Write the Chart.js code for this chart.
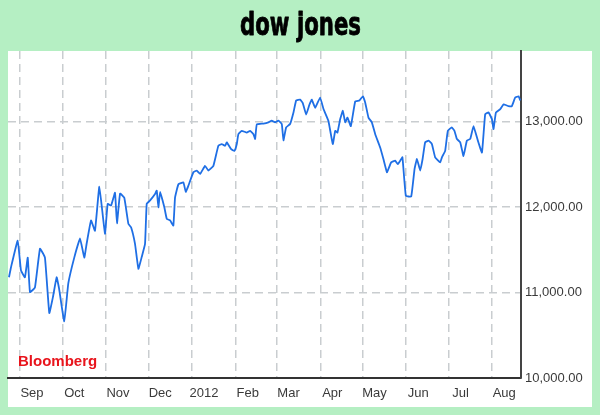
<!DOCTYPE html>
<html>
<head>
<meta charset="utf-8">
<style>
  html, body { margin: 0; padding: 0; background: #b5efc3; }
  #wrap { width: 600px; height: 415px; }
</style>
<script src="https://cdn.jsdelivr.net/npm/chart.js@4.4.1/dist/chart.umd.min.js"></script>
</head>
<body>
<div id="wrap"><canvas id="chart" width="600" height="415"></canvas></div>
<script>
// Dow Jones closes, late Aug 2011 - Aug 2012
// days = days since 1 Sep 2011
const days = [
  -7.8, -6.4, -1.6, 0.7, 3.5, 5.5, 7.1, 10.6, 14.2, 17.7,
  20.8, 23.4, 26.0, 27.7, 31.4, 34.3, 38.5, 42.6, 45.6, 47.3,
  50.4, 53.2, 56.3, 60.3, 62.2, 64.6, 67.4, 68.8, 71.0, 74.0,
  76.9, 78.8, 81.6, 84.0, 86.4, 88.7, 89.9, 92.3, 95.8, 97.0,
  98.2, 99.4, 102.4, 104.1, 106.5, 108.8, 110.0, 112.4, 115.9, 117.6,
  119.4, 123.0, 125.4, 127.8, 131.3, 133.6, 137.2, 140.7, 143.1, 145.5,
  146.7, 149.8, 152.1, 153.8, 154.9, 157.3, 160.9, 163.2, 165.6, 166.8,
  168.0, 172.7, 176.2, 178.6, 181.0, 183.3, 185.7, 186.9, 188.8, 191.6,
  194.0, 195.9, 198.7, 200.6, 203.0, 205.3, 207.0, 209.4, 212.9, 215.3,
  218.8, 221.9, 223.6, 225.2, 227.1, 229.0, 230.7, 232.3, 234.7, 237.8,
  240.8, 243.2, 244.9, 247.2, 249.6, 252.0, 255.5, 257.8, 260.3, 261.4,
  263.3, 266.1, 268.0, 269.7, 271.3, 273.7, 277.5, 279.9, 281.6, 283.9,
  285.6, 287.4, 289.8, 292.2, 294.5, 298.1, 299.3, 301.6, 303.5, 306.3,
  308.2, 309.9, 312.3, 314.6, 317.0, 319.4, 321.7, 324.8, 327.7, 330.0,
  332.4, 334.8, 335.9, 337.6, 340.7, 343.0, 346.5, 348.9, 351.3, 353.7,
  354.9
];
const closes = [
  11180, 11295, 11610, 11260, 11180, 11410, 11005, 11060, 11515, 11410,
  10760, 10950, 11180, 11050, 10665, 11110, 11410, 11635, 11410, 11575,
  11845, 11725, 12240, 11690, 12040, 12020, 12170, 11810, 12160, 12110,
  11805, 11765, 11570, 11280, 11420, 11570, 12040, 12080, 12155, 12195,
  12000, 12180, 12000, 11865, 11845, 11785, 12115, 12270, 12290, 12180,
  12250, 12410, 12430, 12390, 12485, 12430, 12485, 12720, 12740, 12720,
  12760, 12680, 12660, 12740, 12855, 12895, 12875, 12895, 12855, 12800,
  12970, 12980, 12995, 13015, 12995, 13015, 12975, 12785, 12935, 12975,
  13110, 13250, 13260, 13220, 13085, 13200, 13260, 13165, 13285, 13150,
  13010, 12740, 12895, 12875, 13030, 13130, 12995, 13050, 12950, 13240,
  13250, 13300, 13225, 13050, 12995, 12855, 12700, 12565, 12410, 12450,
  12525, 12545, 12505, 12545, 12585, 12135, 12125, 12450, 12565, 12430,
  12565, 12760, 12780, 12740, 12585, 12525, 12585, 12660, 12895, 12935,
  12895, 12800, 12760, 12600, 12780, 12800, 12950, 12780, 12640, 13090,
  13110, 13030, 12915, 13110, 13150, 13205, 13185, 13185, 13285, 13300,
  13250
];

const monthLabels = ['Sep', 'Oct', 'Nov', 'Dec', '2012', 'Feb', 'Mar', 'Apr', 'May', 'Jun', 'Jul', 'Aug'];
const monthStarts = ['2011-09-01', '2011-10-01', '2011-11-01', '2011-12-01', '2012-01-01', '2012-02-01',
                     '2012-03-01', '2012-04-01', '2012-05-01', '2012-06-01', '2012-07-01', '2012-08-01'];
const yTicks = [10000, 11000, 12000, 13000];

const TITLE = 'dow jones';
const SOURCE = 'Bloomberg';

/**
 * Days between 1 Sep 2011 and a date string
 */
function dayOffset(s) {
  return (Date.parse(s + 'T00:00:00Z') - Date.parse('2011-09-01T00:00:00Z')) / 86400000;
}

const monthDays = monthStarts.map(dayOffset);
const points = days.map((d, i) => ({ x: d, y: closes[i] }));

// Green backdrop, white panel, title and source tag
const decor = {
  id: 'decor',
  beforeDraw(chart) {
    const ctx = chart.ctx;
    ctx.save();
    ctx.fillStyle = '#b5efc3';
    ctx.fillRect(0, 0, chart.width, chart.height);
    ctx.fillStyle = '#ffffff';
    ctx.fillRect(8, 51, 584, 356);

    // heavy condensed title
    ctx.fillStyle = '#000000';
    ctx.strokeStyle = '#000000';
    ctx.lineWidth = 0.8;
    ctx.lineJoin = 'round';
    ctx.font = 'bold 32px "Liberation Sans Narrow", "DejaVu Sans Condensed", sans-serif';
    ctx.textBaseline = 'alphabetic';
    const w = ctx.measureText(TITLE).width;
    const target = 121;
    ctx.translate(300.5 - target / 2, 35);
    ctx.scale(target / w, 1);
    ctx.fillText(TITLE, 0, 0);
    ctx.strokeText(TITLE, 0, 0);
    ctx.restore();
  },
  afterDraw(chart) {
    const ctx = chart.ctx;
    ctx.save();
    ctx.fillStyle = '#e8141c';
    ctx.font = 'bold 15px "Liberation Sans", Arial, sans-serif';
    ctx.textBaseline = 'middle';
    ctx.fillText(SOURCE, 18, 362);
    ctx.restore();
  }
};

new Chart(document.getElementById('chart'), {
  type: 'line',
  data: {
    datasets: [{
      data: points,
      borderColor: '#1f6fe5',
      borderWidth: 1.8,
      pointRadius: 0,
      tension: 0.1,
      fill: false
    }]
  },
  options: {
    responsive: false,
    animation: false,
    layout: { padding: { left: 8, top: 51, right: 0, bottom: 0 } },
    plugins: {
      legend: { display: false },
      tooltip: { enabled: false }
    },
    scales: {
      x: {
        type: 'linear',
        min: -8.5,
        max: 355.4,
        afterBuildTicks: scale => { scale.ticks = monthDays.map(v => ({ value: v })); },
        afterFit: scale => { scale.height = 37; },
        grid: { color: '#c9cdd0', lineWidth: 1.5, drawTicks: false },
        border: { display: true, color: '#333333', width: 2, dash: [8, 5] },
        ticks: {
          padding: 8,
          labelOffset: 12,
          maxRotation: 0,
          autoSkip: false,
          color: '#3a3a3a',
          font: { family: '"Liberation Sans", Arial, sans-serif', size: 13 },
          callback: value => monthLabels[monthDays.indexOf(value)]
        }
      },
      y: {
        position: 'right',
        min: 10000,
        max: 13830,
        afterBuildTicks: scale => { scale.ticks = yTicks.map(v => ({ value: v })); },
        afterFit: scale => { scale.width = 79; },
        grid: { color: '#c9cdd0', lineWidth: 1.5, drawTicks: false },
        border: { display: true, color: '#444444', width: 2, dash: [8, 5] },
        ticks: {
          padding: 4,
          color: '#3a3a3a',
          font: { family: '"Liberation Sans", Arial, sans-serif', size: 13 },
          callback: value => value.toLocaleString('en-US', { minimumFractionDigits: 2, maximumFractionDigits: 2 })
        }
      }
    }
  },
  plugins: [decor]
});
</script>
</body>
</html>
